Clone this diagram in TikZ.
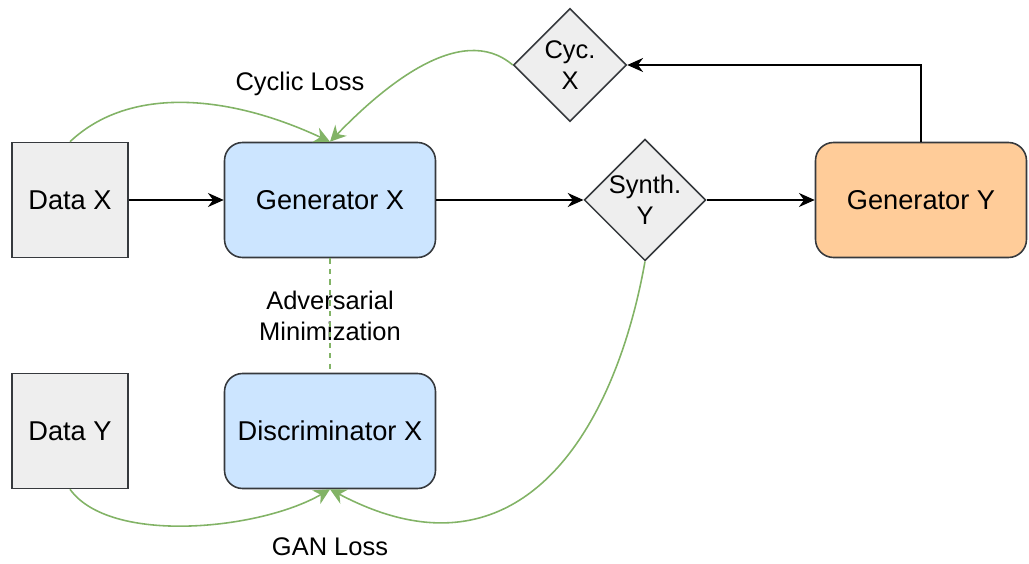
\documentclass[tikz,border=0pt]{standalone}
\usepackage{fontspec}
\setmainfont{Liberation Sans}
\usetikzlibrary{shapes.geometric,arrows.meta}

\definecolor{grayfill}{HTML}{EEEEEE}
\definecolor{bluefill}{HTML}{CCE5FF}
\definecolor{orangefill}{HTML}{FFCC99}
\definecolor{lossgreen}{HTML}{82B366}
\definecolor{edge}{HTML}{36393D}

\begin{document}
\begin{tikzpicture}[x=0.02cm,y=-0.02cm,
	font=\fontsize{14.5}{17.5}\selectfont,
	data/.style={draw=edge,fill=grayfill,line width=0.9pt,minimum width=2.32cm,minimum height=2.3cm,font=\fontsize{15.5}{18}\selectfont},
	net/.style={draw=edge,line width=0.9pt,rounded corners=0.36cm,minimum width=4.22cm,minimum height=2.3cm,font=\fontsize{15.5}{18}\selectfont},
	sample/.style={draw=edge,fill=grayfill,line width=0.9pt,diamond,aspect=1,inner sep=0pt,minimum size=2.26cm,align=center},
	flow/.style={-{Stealth[length=9pt,width=8pt]},line width=0.9pt},
	loss/.style={-{Stealth[length=9pt,width=9pt]},draw=lossgreen,line width=0.9pt}]
	\useasboundingbox (0,0) rectangle (1029,564);

	\node[data] (DX) at (70,200) {Data X};
	\node[net,fill=bluefill] (GX) at (330,200) {Generator X};
	\node[sample] (SY) at (645,200) {Synth.\\Y};
	\node[net,fill=orangefill] (GY) at (921,200) {Generator Y};
	\node[sample] (CX) at (570,65) {Cyc.\\X};
	\node[data] (DY) at (70,431) {Data Y};
	\node[net,fill=bluefill] (DiscX) at (330,431) {Discriminator X};

	\node (cyclic) at (300,84) {Cyclic Loss};
	\node[align=center] (adv) at (330,316) {Adversarial\\Minimization};
	\node (gan) at (330,547) {GAN Loss};

	\draw[flow] (DX) -- (GX);
	\draw[flow] (GX) -- (SY);
	\draw[flow] (SY) -- (GY);
	\draw[flow] (GY.north) |- (CX.east);

	\draw[loss] (DX.north) .. controls (130,85) and (230,95) .. (GX.north);
	\draw[loss] (CX.west) .. controls (460,20) and (380,90) .. (GX.north);
	\draw[loss] (DY.south) .. controls (110,545) and (260,530) .. (DiscX.south);
	\draw[loss] (SY.south) .. controls (615,430) and (520,590) .. (DiscX.south);
	\draw[lossgreen,dashed,line width=0.8pt] (GX) -- (DiscX);
\end{tikzpicture}
\end{document}
